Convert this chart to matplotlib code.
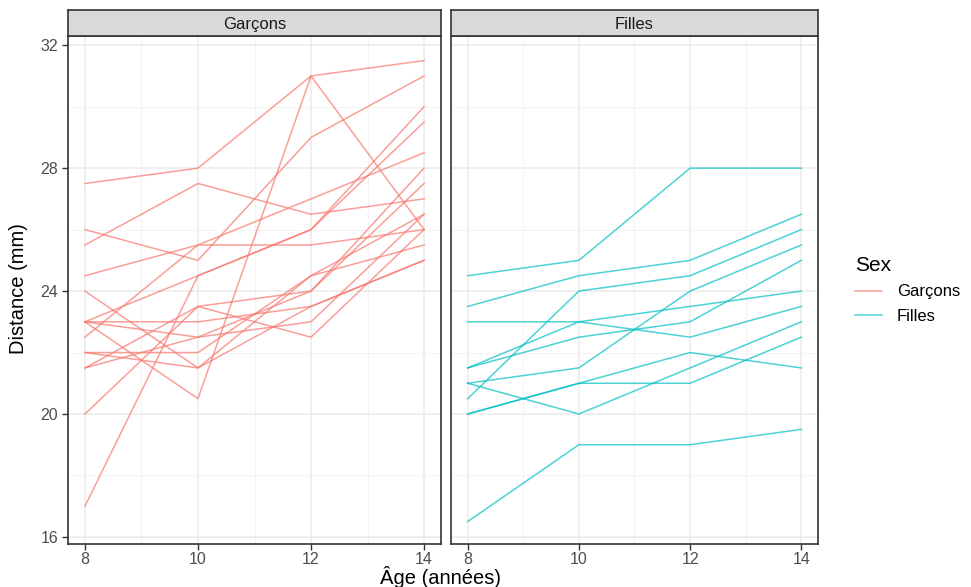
import matplotlib
matplotlib.use("Agg")
import matplotlib.pyplot as plt
from matplotlib.lines import Line2D

plt.rcParams['font.family'] = ['Liberation Sans', 'DejaVu Sans']

ages = [8, 10, 12, 14]

# distance (mm) per subject, boys then girls
garcons = [
    [26, 25, 29, 31],
    [21.5, 22.5, 23, 26.5],
    [23, 22.5, 24, 27.5],
    [25.5, 27.5, 26.5, 27],
    [20, 23.5, 22.5, 26],
    [24.5, 25.5, 27, 28.5],
    [22, 22, 24.5, 26.5],
    [24, 21.5, 24.5, 25.5],
    [23, 20.5, 31, 26],
    [27.5, 28, 31, 31.5],
    [23, 23, 23.5, 25],
    [21.5, 23.5, 24, 28],
    [17, 24.5, 26, 29.5],
    [22.5, 25.5, 25.5, 26],
    [23, 24.5, 26, 30],
    [22, 21.5, 23.5, 25],
]
filles = [
    [21, 20, 21.5, 23],
    [21, 21.5, 24, 25.5],
    [20.5, 24, 24.5, 26],
    [23.5, 24.5, 25, 26.5],
    [21.5, 23, 22.5, 23.5],
    [20, 21, 21, 22.5],
    [21.5, 22.5, 23, 25],
    [23, 23, 23.5, 24],
    [20, 21, 22, 21.5],
    [16.5, 19, 19, 19.5],
    [24.5, 25, 28, 28],
]
panel_names = ["Garçons", "Filles"]
colors = ["#F8766D", "#00BFC4"]

W, H = 971, 587
fig = plt.figure(figsize=(W / 100, H / 100), dpi=100)


def box(x0, y0, x1, y1):
    return [x0 / W, 1 - y1 / H, (x1 - x0) / W, (y1 - y0) / H]


panels = [(68, 441), (451, 818)]
strip_top, panel_top, panel_bot = 10, 36, 544

for i, (data, name, col) in enumerate(zip([garcons, filles], panel_names, colors)):
    x0, x1 = panels[i]
    ax = fig.add_axes(box(x0, panel_top, x1, panel_bot))
    for subj in data:
        ax.plot(ages, subj, color=col, lw=1.1, alpha=0.7)
    ax.set_xlim(7.7, 14.3)
    ax.set_ylim(15.77, 32.3)
    ax.set_xticks([8, 10, 12, 14])
    ax.set_xticks([9, 11, 13], minor=True)
    ax.set_yticks([16, 20, 24, 28, 32])
    ax.set_yticks([18, 22, 26, 30], minor=True)
    ax.grid(which="major", color="#EBEBEB", lw=1.1)
    ax.grid(which="minor", color="#F3F3F3", lw=0.7)
    ax.set_axisbelow(True)
    ax.tick_params(which="minor", length=0)
    ax.tick_params(which="major", length=4, width=1.0, color="#333333",
                   labelsize=11.5, labelcolor="#4D4D4D", pad=3)
    ax.tick_params(axis="x", pad=2)
    if i == 1:
        ax.tick_params(axis="y", left=False, labelleft=False)
    for s in ax.spines.values():
        s.set_color("#333333")
        s.set_linewidth(1.2)

    sax = fig.add_axes(box(x0, strip_top, x1, panel_top))
    sax.set_facecolor("#D9D9D9")
    sax.set_xticks([])
    sax.set_yticks([])
    for s in sax.spines.values():
        s.set_color("#333333")
        s.set_linewidth(1.2)
    sax.text(0.5, 0.45, name, ha="center", va="center", fontsize=12,
             color="#1A1A1A", transform=sax.transAxes)

fig.text(19 / W, 1 - 289 / H, "Distance (mm)", rotation=90, ha="center",
         va="center", fontsize=14.5, color="black")
fig.text(440 / W, 1 - 566 / H, "Âge (années)", ha="center", va="top",
         fontsize=14.5, color="black")

handles = [Line2D([], [], color=c, lw=1.1, alpha=0.7) for c in colors]
leg = fig.legend(handles, panel_names, title="Sex", loc="upper left",
                 bbox_to_anchor=(842 / W, 1 - 243 / H), frameon=False,
                 fontsize=12, title_fontsize=15, handlelength=1.6,
                 handletextpad=0.9, labelspacing=0.55, borderpad=0.3)
leg._legend_box.align = "left"

fig.savefig("out.png", dpi=100)
